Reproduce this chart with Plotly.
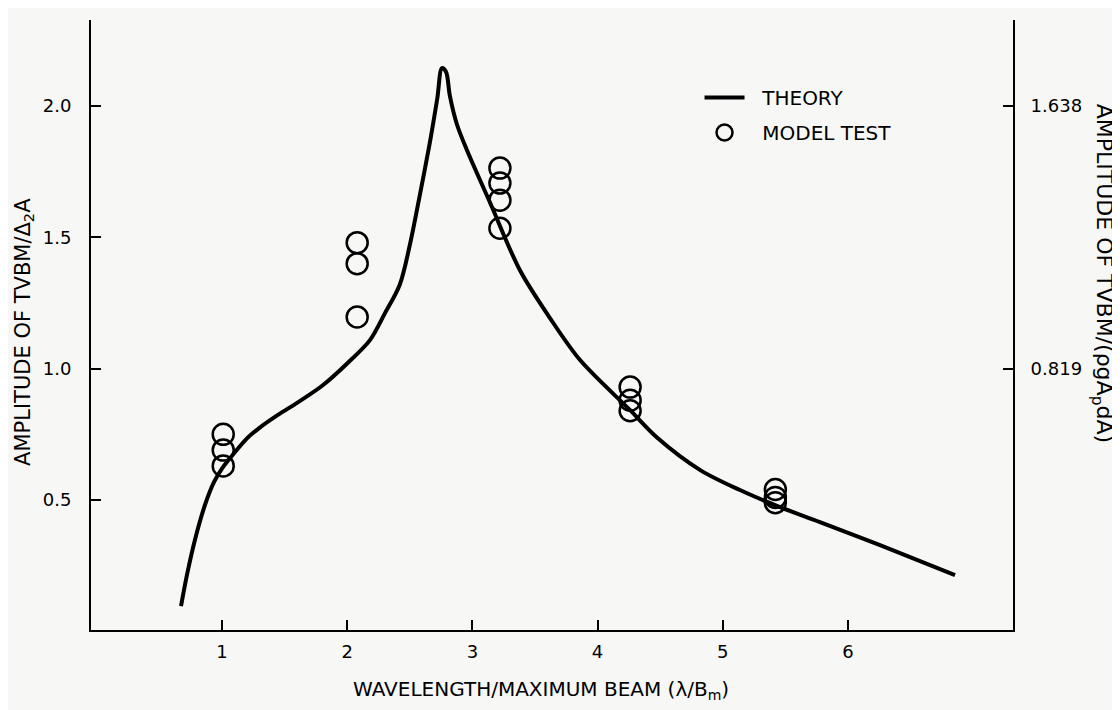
import plotly.graph_objects as go

# Theory curve
theory_x = [0.673, 0.720, 0.784, 0.864, 0.936, 1.0, 1.1, 1.2, 1.3, 1.45, 1.6, 1.8, 2.0, 2.182,
            2.30, 2.42, 2.50, 2.58, 2.66, 2.72, 2.757, 2.79, 2.82, 2.877, 2.957, 3.14,
            3.38, 3.62, 3.86, 4.26, 4.47, 4.82, 5.137, 5.457, 5.776, 6.256, 6.855]
theory_y = [0.096, 0.214, 0.348, 0.481, 0.568, 0.620, 0.680, 0.735, 0.775, 0.825, 0.870, 0.935,
            1.020, 1.109, 1.21, 1.32, 1.47, 1.66, 1.86, 2.03, 2.145, 2.13, 2.04, 1.93, 1.832,
            1.634, 1.375, 1.193, 1.033, 0.842, 0.740, 0.614, 0.538, 0.473, 0.416, 0.328, 0.214]

# Model test points
test_x = [1.01, 1.01, 1.01, 2.08, 2.08, 2.08, 3.22, 3.22, 3.22, 3.22, 4.26, 4.26, 4.26, 5.42, 5.42, 5.42]
test_y = [0.75, 0.69, 0.63, 1.48, 1.40, 1.197, 1.764, 1.707, 1.642, 1.535, 0.93, 0.88, 0.84, 0.54, 0.51, 0.49]

x_ticks = [1, 2, 3, 4, 5, 6]
y_ticks = [0.5, 1.0, 1.5, 2.0]
y_ticktext = ["0.5", "1.0", "1.5", "2.0"]
scale_right = 0.819
y2_ticks = [0.819, 1.638]
y2_ticktext = ["0.819", "1.638"]

FONT = "DejaVu Sans, Liberation Sans, sans-serif"
BG = "#f7f7f6"
NB = "\u00a0"

fig = go.Figure()
fig.add_trace(go.Scatter(x=theory_x, y=theory_y, mode="lines", name=NB * 2 + "THEORY",
                         legendgroup="a",
                         line=dict(color="black", width=4, shape="spline", smoothing=0.9)))
fig.add_trace(go.Scatter(x=test_x, y=test_y, mode="markers", name=NB * 2 + "MODEL TEST",
                         legendgroup="b",
                         marker=dict(symbol="circle-open", size=21, color="black",
                                     line=dict(width=2.5, color="black"))))
# invisible trace to anchor the right axis
fig.add_trace(go.Scatter(x=theory_x, y=[v * scale_right for v in theory_y], yaxis="y2",
                         mode="lines", line=dict(width=0), opacity=0, showlegend=False,
                         hoverinfo="skip"))

y_lo, y_hi = 0.005, 2.328
fig.update_layout(
    width=1112, height=702,
    margin=dict(l=83, r=107, t=12, b=80),
    paper_bgcolor=BG, plot_bgcolor=BG,
    font=dict(family=FONT, size=18, color="black"),
    showlegend=True,
    legend=dict(x=0.66, y=0.905, xanchor="left", yanchor="top",
                bgcolor="rgba(0,0,0,0)", font=dict(size=20, family=FONT),
                itemwidth=40, tracegroupgap=6),
    xaxis=dict(range=[-0.046, 7.318], tickvals=x_ticks, ticks="inside", ticklen=10,
               tickwidth=2, tickcolor="black", showline=True, linewidth=2, linecolor="black",
               showgrid=False, zeroline=False, ticklabelstandoff=4, mirror=False),
    yaxis=dict(range=[y_lo, y_hi], tickvals=y_ticks, ticktext=y_ticktext, ticks="inside",
               ticklen=10, tickwidth=2, tickcolor="black", showline=True, linewidth=2,
               linecolor="black", showgrid=False, zeroline=False, ticklabelstandoff=14),
    yaxis2=dict(range=[y_lo * scale_right, y_hi * scale_right], overlaying="y", side="right",
                tickvals=y2_ticks, ticktext=y2_ticktext, ticks="inside", ticklen=10,
                tickwidth=2, tickcolor="black", showline=True, linewidth=2,
                linecolor="black", showgrid=False, zeroline=False, ticklabelstandoff=12),
)

fig.add_annotation(text="WAVELENGTH/MAXIMUM BEAM (λ/B<sub>m</sub>)", xref="paper", yref="paper",
                   x=0.488, y=-0.098, showarrow=False, font=dict(size=20, family=FONT),
                   xanchor="center", yanchor="middle")
fig.add_annotation(text="AMPLITUDE OF TVBM/Δ<sub>2</sub>A", xref="paper", yref="paper",
                   x=-0.0735, y=0.489, showarrow=False, textangle=-90,
                   font=dict(size=21, family=FONT), xanchor="center", yanchor="middle")
fig.add_annotation(text="AMPLITUDE OF TVBM/(ρgA<sub>p</sub>dA)", xref="paper", yref="paper",
                   x=1.097, y=0.585, showarrow=False, textangle=90,
                   font=dict(size=22, family=FONT), xanchor="center", yanchor="middle")

fig.write_html("out.html")
